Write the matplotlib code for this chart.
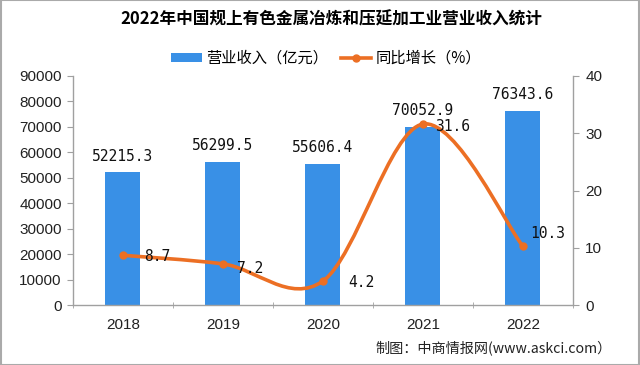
import matplotlib.pyplot as plt
import numpy as np
from matplotlib.path import Path
from matplotlib.patches import PathPatch, Patch, Rectangle
from matplotlib.lines import Line2D

plt.rcParams['font.family'] = ['Noto Sans CJK SC', 'DejaVu Sans']

years = ['2018', '2019', '2020', '2021', '2022']
revenue = [52215.3, 56299.5, 55606.4, 70052.9, 76343.6]
growth = [8.7, 7.2, 4.2, 31.6, 10.3]

title = '2022年中国规上有色金属冶炼和压延加工业营业收入统计'
bar_label = '营业收入（亿元）'
line_label = '同比增长（%）'
source = '制图：中商情报网(www.askci.com）'

bar_color = '#3990e6'
line_color = '#ec6f24'
axis_color = '#a0a0a0'
num_font = 'DejaVu Sans Mono'
tick_font = 'Liberation Sans'

fig = plt.figure(figsize=(6.4, 3.65), dpi=100)
ax = fig.add_axes([0.114, 0.164, 0.781, 0.628])
ax2 = ax.twinx()

x = np.arange(len(years))
ax.bar(x, revenue, width=0.35, color=bar_color, zorder=2)
ax.set_xlim(-0.5, len(years) - 0.5)
ax.set_ylim(0, 90000)
ax.set_yticks(np.arange(0, 90001, 10000))
ax2.set_ylim(0, 40)
ax2.set_yticks(np.arange(0, 41, 10))

for a in (ax, ax2):
    a.spines['top'].set_visible(False)
    for s in ('left', 'right', 'bottom'):
        a.spines[s].set_color(axis_color)
        a.spines[s].set_linewidth(1.0)
ax.spines['right'].set_visible(False)
ax2.spines['left'].set_visible(False)
ax2.spines['bottom'].set_visible(False)

ax.set_xticks(x)
ax.set_xticklabels(years)
ax.set_xticks(np.arange(-0.5, len(years), 1.0), minor=True)
ax.tick_params(axis='x', which='major', length=0, pad=9)
ax.tick_params(axis='x', which='minor', length=4, direction='inout', color=axis_color)
ax.tick_params(axis='y', length=4, color=axis_color, pad=4)
ax2.tick_params(axis='y', length=4, color=axis_color, pad=5)
for lbl in ax.get_xticklabels() + ax.get_yticklabels() + ax2.get_yticklabels():
    lbl.set_fontfamily(tick_font)
    lbl.set_fontsize(11)
    lbl.set_color('#222222')

# bar value labels
for xi, v in zip(x, revenue):
    ax.annotate(f'{v:.1f}', (xi, v), xytext=(0, 6), textcoords='offset points',
                ha='center', va='bottom', fontsize=10.5, family=num_font, color='#111111', zorder=5)

# smoothed line (Excel style bezier through the points)
pts = list(zip(x.astype(float), growth))
verts = [pts[0]]
codes = [Path.MOVETO]
n = len(pts)
for i in range(n - 1):
    p0 = pts[max(i - 1, 0)]
    p1 = pts[i]
    p2 = pts[i + 1]
    p3 = pts[min(i + 2, n - 1)]
    c1 = (p1[0] + (p2[0] - p0[0]) / 6, p1[1] + (p2[1] - p0[1]) / 6)
    c2 = (p2[0] - (p3[0] - p1[0]) / 6, p2[1] - (p3[1] - p1[1]) / 6)
    verts += [c1, c2, p2]
    codes += [Path.CURVE4] * 3
ax2.add_patch(PathPatch(Path(verts, codes), facecolor='none', edgecolor=line_color,
                        lw=2.6, zorder=3, capstyle='round'))
ax2.plot(x, growth, 'o', color=line_color, ms=5, zorder=4)

label_offsets = [(15, -1), (10, -3), (18, -1), (9, -2), (5, 9)]
for xi, v, off in zip(x, growth, label_offsets):
    ax2.annotate(f'{v}', (xi, v), xytext=off, textcoords='offset points',
                 ha='left', va='center', fontsize=10.5, family=num_font, color='#111111', zorder=5)

fig.text(0.518, 0.948, title, ha='center', va='center', fontsize=12, fontweight='bold')

handles = [Patch(facecolor=bar_color, edgecolor='none'),
           Line2D([0], [0], color=line_color, lw=2.6, marker='o', ms=5)]
fig.legend(handles, [bar_label, line_label], loc='center', bbox_to_anchor=(0.51, 0.84),
           ncol=2, frameon=False, fontsize=11, handlelength=2.0, handleheight=0.45,
           columnspacing=0.8, handletextpad=0.3)

fig.text(0.956, 0.048, source, ha='right', va='center', fontsize=10.2, color='#222222')

fig.patches.append(Rectangle((0.002, 0.0), 0.996, 1.0, transform=fig.transFigure,
                             fill=False, edgecolor='#aaaaaa', lw=1.5))

fig.savefig('out.png', dpi=100)
